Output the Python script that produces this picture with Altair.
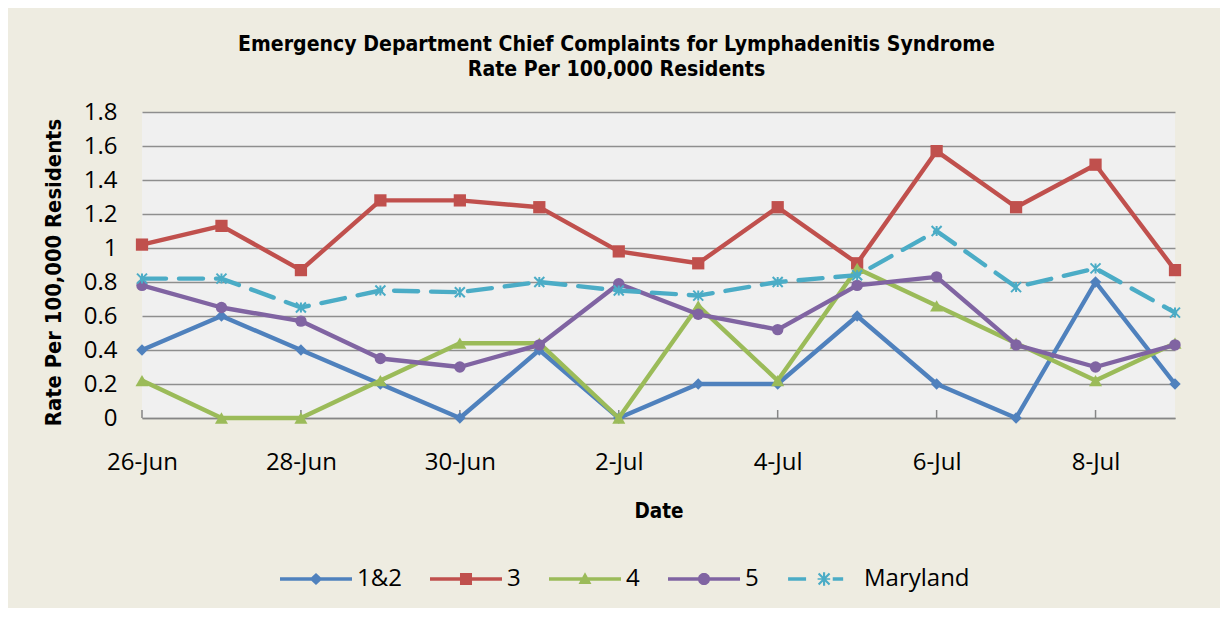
import math
import altair as alt
import pandas as pd

# ---------------- data ----------------
dates = ["26-Jun", "27-Jun", "28-Jun", "29-Jun", "30-Jun", "1-Jul", "2-Jul",
         "3-Jul", "4-Jul", "5-Jul", "6-Jul", "7-Jul", "8-Jul", "9-Jul"]
label_dates = ["26-Jun", "28-Jun", "30-Jun", "2-Jul", "4-Jul", "6-Jul", "8-Jul"]
series_names = ["1&2", "3", "4", "5", "Maryland"]

region_1_2 = [0.40, 0.60, 0.40, 0.20, 0.00, 0.40, 0.00, 0.20, 0.20, 0.60, 0.20, 0.00, 0.80, 0.20]
region_3 = [1.02, 1.13, 0.87, 1.28, 1.28, 1.24, 0.98, 0.91, 1.24, 0.91, 1.57, 1.24, 1.49, 0.87]
region_4 = [0.22, 0.00, 0.00, 0.22, 0.44, 0.44, 0.00, 0.66, 0.22, 0.88, 0.66, 0.44, 0.22, 0.44]
region_5 = [0.78, 0.65, 0.57, 0.35, 0.30, 0.43, 0.79, 0.61, 0.52, 0.78, 0.83, 0.43, 0.30, 0.43]
maryland = [0.82, 0.82, 0.65, 0.75, 0.74, 0.80, 0.75, 0.72, 0.80, 0.84, 1.10, 0.77, 0.88, 0.62]

y_ticks = [round(i * 0.2, 1) for i in range(10)]

# ---------------- style ----------------
colors = ["#4F81BD", "#C0504D", "#9BBB59", "#8064A2", "#4BACC6"]
shapes = ["diamond", "square", "triangle-up", "circle", "M-1,-1L1,1M-1,1L1,-1M0,-1L0,1"]
sizes = [130, 150, 170, 130, 100]
PLOT_W, PLOT_H = 1033, 306
TOTAL_W, TOTAL_H = 1212, 600
PAD_L, PAD_T = 134, 104

TITLE_FONT = "DejaVu Sans Condensed"
LABEL_FONT = "Open Sans"


# ----- legend symbol paths (unit square -1..1, drawn filled) -----
def fmt(v):
    return f"{v:.4f}".rstrip("0").rstrip(".")


def seg(p, q, t):
    dx, dy = q[0] - p[0], q[1] - p[1]
    L = math.hypot(dx, dy)
    dx, dy = dx / L, dy / L
    nx, ny = -dy, dx
    pts = [(p[0] - nx * t, p[1] - ny * t), (q[0] - nx * t, q[1] - ny * t),
           (q[0] + nx * t, q[1] + ny * t), (p[0] + nx * t, p[1] + ny * t)]
    return "M" + "L".join(f"{fmt(x)},{fmt(y)}" for x, y in pts) + "Z"


def poly(pts):
    return "M" + "L".join(f"{fmt(x)},{fmt(y)}" for x, y in pts) + "Z"


LT = 0.048  # half line thickness
line_full = seg((-1, 0), (1, 0), LT)
diamond = poly([(0, -0.17), (0.18, 0), (0, 0.17), (-0.18, 0)])
square = poly([(-0.167, -0.167), (0.167, -0.167), (0.167, 0.167), (-0.167, 0.167)])
triangle = poly([(0, -0.19), (0.18, 0.14), (-0.18, 0.14)])
circle = poly([(0.17 * math.cos(2 * math.pi * k / 32), 0.17 * math.sin(2 * math.pi * k / 32))
               for k in range(32)])
a = 0.19
ast_c = 0.03
asterisk = (seg((ast_c - a * 0.8, -a * 0.8), (ast_c + a * 0.8, a * 0.8), 0.03)
            + seg((ast_c - a * 0.8, a * 0.8), (ast_c + a * 0.8, -a * 0.8), 0.03)
            + seg((ast_c, -a), (ast_c, a), 0.03))
md_sym = (seg((-0.97, 0), (-0.47, 0), LT) + seg((0.27, 0), (0.56, 0), LT)
          + seg((-0.15, 0), (0.2, 0), 0.02) + asterisk)
legend_shapes = [line_full + diamond, line_full + square, line_full + triangle,
                 line_full + circle, md_sym]

# ---------------- table ----------------
all_values = [region_1_2, region_3, region_4, region_5, maryland]
rows = []
for s, vals in zip(series_names, all_values):
    for d, v in zip(dates, vals):
        rows.append({"date": d, "series": s, "value": v})
df = pd.DataFrame(rows)
ticks_df = pd.DataFrame({"date": label_dates})

x_enc = alt.X(
    "date:O",
    sort=dates,
    scale=alt.Scale(type="point", padding=0, domain=dates),
    axis=alt.Axis(
        values=label_dates, labelAngle=0, labelAlign="center", grid=False,
        ticks=False, tickSize=0,
        labelPadding=44, labelFont=LABEL_FONT, labelFontSize=24, labelColor="black",
        labelOverlap=False, labelFlush=False, labelBound=False,
        domainColor="#868686", domainWidth=1.6,
        title="Date", titleFont=TITLE_FONT, titleFontSize=20.5, titleFontWeight="bold",
        titleColor="black", titleY=99.5, titleBaseline="alphabetic",
    ),
)
y_enc = alt.Y(
    "value:Q",
    scale=alt.Scale(domain=[0, 1.8], nice=False, zero=True),
    axis=alt.Axis(
        values=y_ticks, format="~g", domain=False, ticks=False, tickSize=0,
        labelPadding=25, labelFont=LABEL_FONT, labelFontSize=24, labelColor="black",
        gridColor="#8E8E8E", gridWidth=1.3,
        title="Rate Per 100,000 Residents", titleFont=TITLE_FONT, titleFontSize=21.8,
        titleFontWeight="bold", titleColor="black", titleX=-89, titleY=160,
        titleAngle=270, titleAlign="center", titleBaseline="middle",
    ),
)

base = alt.Chart(df)
layers = []
for i, s in enumerate(series_names):
    sub = base.transform_filter(alt.datum.series == s)
    if s == "Maryland":
        line = sub.mark_line(color=colors[i], strokeWidth=4.4, strokeDash=[24, 13],
                             strokeCap="round")
        pts = sub.mark_point(shape=shapes[i], filled=False, color=colors[i],
                             size=sizes[i], strokeWidth=2, opacity=1)
    else:
        line = sub.mark_line(color=colors[i], strokeWidth=4.4, strokeJoin="round")
        pts = sub.mark_point(shape=shapes[i], filled=True, color=colors[i],
                             size=sizes[i], opacity=1)
    layers.append(line.encode(x=x_enc, y=y_enc))
    layers.append(pts.encode(x=x_enc, y=y_enc))

legend = alt.Legend(
    title=None, orient="none", legendX=138, legendY=431, direction="horizontal",
    columns=5, symbolSize=5184, symbolStrokeWidth=0, symbolOpacity=1,
    labelFont=LABEL_FONT, labelFontSize=24, labelColor="black", labelOffset=5,
    columnPadding=28, padding=0, labelLimit=300,
)
legend_layer = base.mark_point(filled=True, opacity=0).encode(
    x=x_enc, y=y_enc,
    color=alt.Color("series:N", scale=alt.Scale(domain=series_names, range=colors),
                    legend=legend),
    shape=alt.Shape("series:N", scale=alt.Scale(domain=series_names, range=legend_shapes),
                    legend=legend),
)

tick_layer = alt.Chart(ticks_df).mark_rule(color="#868686", strokeWidth=1.5).encode(
    x=alt.X("date:O", sort=dates, scale=alt.Scale(type="point", padding=0, domain=dates)),
    y=alt.value(PLOT_H - 8),
    y2=alt.value(PLOT_H),
)

chart = alt.layer(tick_layer, *layers, legend_layer).properties(
    width=PLOT_W,
    height=PLOT_H,
    autosize=alt.AutoSizeParams(type="none"),
    padding={"left": PAD_L, "top": PAD_T, "right": TOTAL_W - PAD_L - PLOT_W,
             "bottom": TOTAL_H - PAD_T - PLOT_H},
    title=alt.TitleParams(
        text=["Emergency Department Chief Complaints for Lymphadenitis Syndrome",
              "Rate Per 100,000 Residents"],
        anchor="middle", dx=-42, font=TITLE_FONT, fontSize=21.1, fontWeight="bold",
        color="black", lineHeight=25, offset=20,
    ),
).configure(background="#EEECE1").configure_view(fill="#F0F0F0", stroke=None)

chart.save("out.html", embed_options={"renderer": "svg", "actions": False})
